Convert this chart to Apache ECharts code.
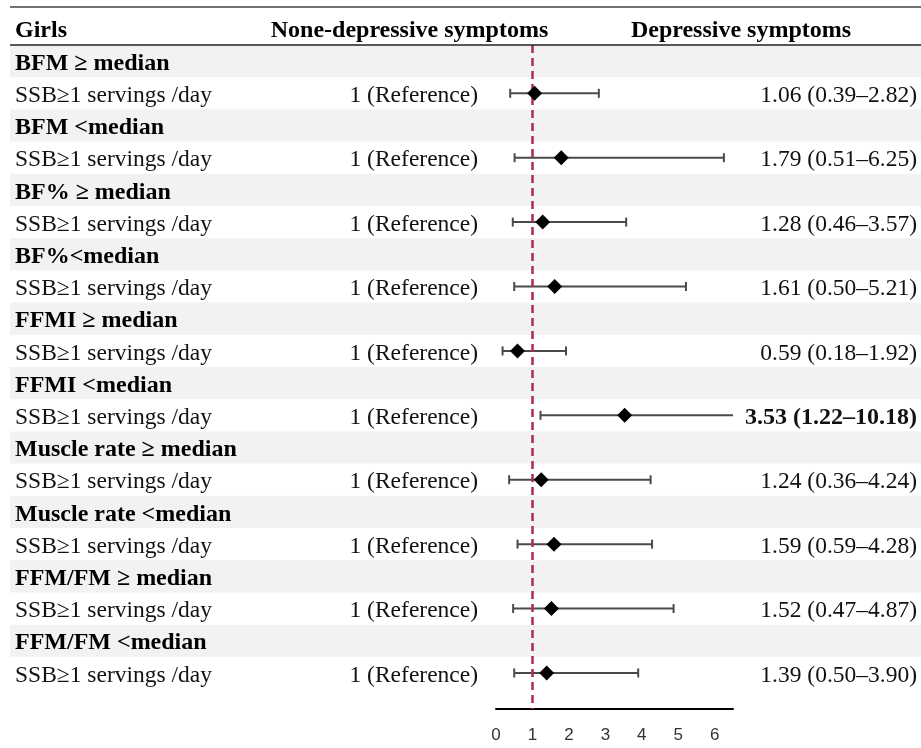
<!DOCTYPE html>
<html><head><meta charset="utf-8">
<script src="https://cdn.jsdelivr.net/npm/echarts@6/dist/echarts.min.js"></script>
<style>html,body{margin:0;padding:0;background:#fff}#c{width:921px;height:748px}</style>
</head><body><div id="c"></div>
<script>
const headers = ['Girls', 'None-depressive symptoms', 'Depressive symptoms'];
const groups = ['BFM \u2265 median', 'BFM <median', 'BF% \u2265 median', 'BF%<median', 'FFMI \u2265 median',
  'FFMI <median', 'Muscle rate \u2265 median', 'Muscle rate <median', 'FFM/FM \u2265 median', 'FFM/FM <median'];
const exposureLabel = 'SSB\u22651 servings /day';
const referenceLabel = '1 (Reference)';
const orValues = [1.06, 1.79, 1.28, 1.61, 0.59, 3.53, 1.24, 1.59, 1.52, 1.39];
const ciLow    = [0.39, 0.51, 0.46, 0.50, 0.18, 1.22, 0.36, 0.59, 0.47, 0.50];
const ciHigh   = [2.82, 6.25, 3.57, 5.21, 1.92, 10.18, 4.24, 4.28, 4.87, 3.90];
const significant = [false, false, false, false, false, true, false, false, false, false];
const xTicks = [0, 1, 2, 3, 4, 5, 6];
const refValue = 1;

const SERIF = '"Liberation Serif", "Times New Roman", serif';
const X_MAX = 6.5;
const Y_MAX = 20.62;
const FS = 23.5, FSB = 24;
const TDY = 2.5;

const tableData = [];
groups.forEach((g, i) => {
  tableData.push([0, 2 * i + 0.5, 1, i]);
  tableData.push([0, 2 * i + 1.5, 0, i]);
});
const fmt = v => v.toFixed(2);

const chart = echarts.init(document.getElementById('c'), null, {renderer: 'canvas'});
chart.setOption({
  animation: false,
  backgroundColor: '#fff',
  grid: {left: 496, top: 45, width: 237, height: 664},
  xAxis: {
    type: 'value', min: 0, max: X_MAX, interval: 1, position: 'bottom',
    axisLine: {show: true, onZero: false, lineStyle: {color: '#000', width: 2}},
    axisTick: {show: false}, splitLine: {show: false},
    axisLabel: {
      formatter: v => xTicks.includes(v) ? String(v) : '',
      fontFamily: '"Liberation Sans", Arial, sans-serif', fontSize: 17, color: '#333', margin: 18
    }
  },
  yAxis: {type: 'value', inverse: true, min: 0, max: Y_MAX, show: false},
  series: [
    {
      type: 'custom', z: 1, clip: false, silent: true,
      encode: {x: 0, y: 1},
      data: tableData,
      renderItem: (params, api) => {
        const yv = api.value(1);
        const isGroup = api.value(2) === 1;
        const idx = api.value(3);
        const cy = api.coord([0, yv])[1] + TDY;
        const top = api.coord([0, yv - 0.5])[1];
        const bot = api.coord([0, yv + 0.5])[1];
        const children = [];
        if (isGroup) {
          children.push({type: 'rect', shape: {x: 10, y: top, width: 911, height: bot - top}, style: {fill: '#f2f2f2'}});
          children.push({type: 'text', style: {text: groups[idx], x: 15, y: cy, verticalAlign: 'middle', align: 'left',
            font: 'bold ' + FSB + 'px ' + SERIF, fill: '#000'}});
        } else {
          children.push({type: 'text', style: {text: exposureLabel, x: 15, y: cy, verticalAlign: 'middle', align: 'left',
            font: FS + 'px ' + SERIF, fill: '#111'}});
          children.push({type: 'text', style: {text: referenceLabel, x: 478, y: cy, verticalAlign: 'middle', align: 'right',
            font: FS + 'px ' + SERIF, fill: '#111'}});
          const t = fmt(orValues[idx]) + ' (' + fmt(ciLow[idx]) + '\u2013' + fmt(ciHigh[idx]) + ')';
          children.push({type: 'text', style: {text: t, x: 917, y: cy, verticalAlign: 'middle', align: 'right',
            font: (significant[idx] ? 'bold ' + FSB : FS) + 'px ' + SERIF, fill: '#111'}});
        }
        return {type: 'group', children};
      }
    },
    {
      type: 'custom', z: 3, clip: true, silent: true,
      encode: {x: [0, 1], y: 2},
      data: orValues.map((v, i) => [ciLow[i], ciHigh[i], 2 * i + 1.5]),
      renderItem: (params, api) => {
        const y = api.value(2);
        const p1 = api.coord([api.value(0), y]);
        const p2 = api.coord([api.value(1), y]);
        const c = 4.5;
        const st = {stroke: '#4a4a4a', lineWidth: 2};
        return {type: 'group', children: [
          {type: 'line', shape: {x1: p1[0], y1: p1[1], x2: p2[0], y2: p2[1]}, style: st},
          {type: 'line', shape: {x1: p1[0], y1: p1[1] - c, x2: p1[0], y2: p1[1] + c}, style: st},
          {type: 'line', shape: {x1: p2[0], y1: p2[1] - c, x2: p2[0], y2: p2[1] + c}, style: st}
        ]};
      }
    },
    {
      type: 'scatter', z: 5, silent: true,
      symbol: 'diamond', symbolSize: 15,
      itemStyle: {color: '#000', opacity: 1},
      data: orValues.map((v, i) => [v, 2 * i + 1.5]),
      markLine: {
        silent: true, symbol: ['none', 'none'], label: {show: false}, z: 4,
        lineStyle: {type: [8, 5], color: '#b02a58', width: 2.5, opacity: 1},
        emphasis: {disabled: true},
        data: [{xAxis: refValue}]
      }
    }
  ],
  graphic: [
    {type: 'line', z: 10, shape: {x1: 10, y1: 7, x2: 921, y2: 7}, style: {stroke: '#444', lineWidth: 1.5}},
    {type: 'line', z: 10, shape: {x1: 10, y1: 45, x2: 921, y2: 45}, style: {stroke: '#222', lineWidth: 1.5}},
    {type: 'text', z: 10, style: {text: headers[0], x: 15, y: 28 + TDY, verticalAlign: 'middle', align: 'left', font: 'bold ' + FSB + 'px ' + SERIF, fill: '#000'}},
    {type: 'text', z: 10, style: {text: headers[1], x: 409.5, y: 28 + TDY, verticalAlign: 'middle', align: 'center', font: 'bold ' + FSB + 'px ' + SERIF, fill: '#000'}},
    {type: 'text', z: 10, style: {text: headers[2], x: 741, y: 28 + TDY, verticalAlign: 'middle', align: 'center', font: 'bold ' + FSB + 'px ' + SERIF, fill: '#000'}}
  ]
});
</script></body></html>
